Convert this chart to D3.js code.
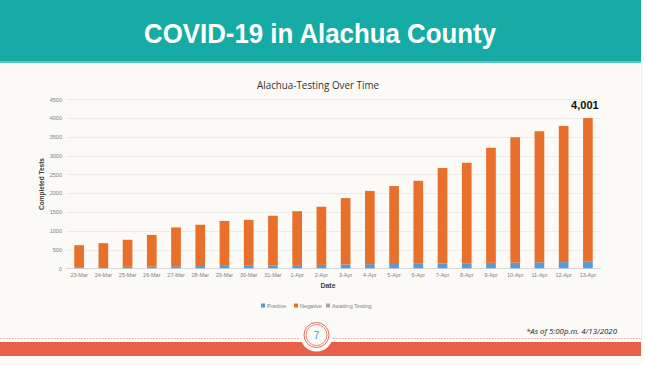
<!DOCTYPE html>
<html><head><meta charset="utf-8">
<script src="https://cdn.jsdelivr.net/npm/d3@7"></script>
<style>html,body{margin:0;padding:0;background:#fbfaf7;}svg{display:block;}</style>
</head><body>
<script>
const dates = ["23-Mar","24-Mar","25-Mar","26-Mar","27-Mar","28-Mar","29-Mar","30-Mar","31-Mar","1-Apr","2-Apr","3-Apr","4-Apr","5-Apr","6-Apr","7-Apr","8-Apr","9-Apr","10-Apr","11-Apr","12-Apr","13-Apr"];
const positive = [30,35,40,45,55,60,65,70,75,85,90,100,110,115,120,130,135,145,150,160,165,175];
const negative = [585,635,720,845,1035,1100,1195,1220,1325,1435,1550,1770,1950,2075,2210,2540,2675,3065,3340,3490,3625,3826];
const awaiting = [0,0,0,0,0,0,0,0,0,0,0,0,0,0,0,0,0,0,0,0,0,0];
const yTicks = [0,500,1000,1500,2000,2500,3000,3500,4000,4500];
const seriesNames = ["Positive","Negative","Awaiting Testing"];
const seriesColors = ["#5b9bd5","#e8702a","#a5a5a5"];

const W=645,H=365;
const svg=d3.select("body").append("svg").attr("width",W).attr("height",H);
svg.append("rect").attr("width",W).attr("height",H).attr("fill","#fbfaf7");
svg.append("line").attr("x1",641.5).attr("x2",641.5).attr("y1",62).attr("y2",340).attr("stroke","#f0d8d2").attr("stroke-width",1);
svg.append("rect").attr("x",641.5).attr("y",0).attr("width",4).attr("height",H).attr("fill","#ffffff");

// header
svg.append("rect").attr("x",0).attr("y",0).attr("width",641).attr("height",62).attr("fill","#16aca5");
svg.append("rect").attr("x",0).attr("y",61).attr("width",641).attr("height",2).attr("fill","#5cc6c0");
svg.append("text").attr("x",320).attr("y",42.5).attr("text-anchor","middle")
  .attr("font-family","Liberation Sans, Arial, sans-serif").attr("font-weight","bold").attr("font-size",28)
  .attr("fill","#ffffff").attr("textLength",352).attr("lengthAdjust","spacingAndGlyphs")
  .text("COVID-19 in Alachua County");

// chart
const x=d3.scaleBand().domain(dates).range([67,600]).paddingInner(0.6).paddingOuter(0.3);
const y=d3.scaleLinear().domain([0,4500]).range([268.3,99.3]);

const g=svg.append("g");
g.selectAll("line.grid").data(yTicks).join("line").attr("class","grid")
  .attr("x1",66).attr("x2",601).attr("y1",d=>Math.round(y(d))+0.5).attr("y2",d=>Math.round(y(d))+0.5)
  .attr("stroke",d=>d===0?"#d9d9d9":"#ececec").attr("stroke-width",1);

const yAxis=g.append("g").attr("transform","translate(64,0)")
  .call(d3.axisLeft(y).tickValues(yTicks).tickFormat(d3.format("d")).tickSize(0).tickPadding(2));
yAxis.select(".domain").remove();
yAxis.selectAll("text").attr("font-family","Liberation Sans, Arial, sans-serif").attr("font-size",5.5).attr("fill","#7f7f7f");

const xAxis=g.append("g").attr("transform","translate(0,268.3)")
  .call(d3.axisBottom(x).tickSize(0).tickPadding(5));
xAxis.select(".domain").remove();
xAxis.selectAll("text").attr("font-family","Liberation Sans, Arial, sans-serif").attr("font-size",5.5).attr("fill","#7f7f7f");

const rows=dates.map((d,i)=>({date:d,Positive:positive[i],Negative:negative[i],"Awaiting Testing":awaiting[i]}));
const stack=d3.stack().keys(seriesNames)(rows);
g.selectAll("g.series").data(stack).join("g").attr("class","series")
  .attr("fill",(d,i)=>seriesColors[i])
  .selectAll("rect").data(d=>d).join("rect")
  .attr("x",d=>x(d.data.date)).attr("width",x.bandwidth())
  .attr("y",d=>y(d[1])).attr("height",d=>Math.max(0,y(d[0])-y(d[1])));

// total label
const lastIdx=dates.length-1;
const total=positive[lastIdx]+negative[lastIdx]+awaiting[lastIdx];
g.append("text").attr("x",x(dates[lastIdx])+x.bandwidth()/2-3).attr("y",y(total)-9)
  .attr("text-anchor","middle").attr("font-family","Liberation Sans, Arial, sans-serif")
  .attr("font-weight","bold").attr("font-size",11).attr("fill","#111").text(d3.format(",")(total));

// titles
svg.append("text").attr("x",318).attr("y",89).attr("text-anchor","middle")
  .attr("font-family","Open Sans, Liberation Sans, sans-serif").attr("font-size",11).attr("fill","#333")
  .attr("textLength",122).attr("lengthAdjust","spacingAndGlyphs").text("Alachua-Testing Over Time");
svg.append("text").attr("transform","translate(44,184) rotate(-90)").attr("text-anchor","middle")
  .attr("font-family","Liberation Sans, Arial, sans-serif").attr("font-weight","bold").attr("font-size",6.5).attr("fill","#404040")
  .text("Completed Tests");
svg.append("text").attr("x",328).attr("y",288).attr("text-anchor","middle")
  .attr("font-family","Liberation Sans, Arial, sans-serif").attr("font-weight","bold").attr("font-size",7).attr("fill","#404040")
  .text("Date");

// legend
const legX=[261,294,326];
const leg=svg.append("g").selectAll("g").data(seriesNames).join("g")
  .attr("transform",(d,i)=>`translate(${legX[i]},306)`);
leg.append("rect").attr("x",0).attr("y",-2.5).attr("width",4).attr("height",4).attr("fill",(d,i)=>seriesColors[i]);
leg.append("text").attr("x",6).attr("y",2).attr("font-family","Liberation Sans, Arial, sans-serif")
  .attr("font-size",5.5).attr("fill","#7f7f7f").text(d=>d);

// footer
svg.append("line").attr("x1",0).attr("x2",641).attr("y1",338.5).attr("y2",338.5)
  .attr("stroke","#d9a49a").attr("stroke-width",1).attr("stroke-dasharray","1.5,1.5");
svg.append("rect").attr("x",0).attr("y",342).attr("width",641).attr("height",14).attr("fill","#e8604a");
svg.append("circle").attr("cx",316.5).attr("cy",335).attr("r",16.5).attr("fill","#fdfbf9");
svg.append("circle").attr("cx",316.5).attr("cy",335).attr("r",12.5).attr("fill","none").attr("stroke","#e36b5a").attr("stroke-width",1);
svg.append("circle").attr("cx",316.5).attr("cy",335).attr("r",10.5).attr("fill","none").attr("stroke","#e36b5a").attr("stroke-width",0.8);
svg.append("text").attr("x",316.5).attr("y",338.5).attr("text-anchor","middle")
  .attr("font-family","Liberation Sans, Arial, sans-serif").attr("font-size",10).attr("fill","#2aa7a3").text("7");
svg.append("text").attr("x",617).attr("y",334).attr("text-anchor","end")
  .attr("font-family","Open Sans, Liberation Sans, sans-serif").attr("font-style","italic").attr("font-size",7.5).attr("fill","#222")
  .attr("textLength",91).attr("lengthAdjust","spacingAndGlyphs").text("*As of 5:00p.m. 4/13/2020");
</script>
</body></html>
